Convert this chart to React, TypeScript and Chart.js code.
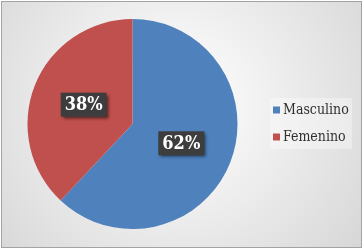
import React, { useEffect, useRef } from "react";
import { Chart, registerables } from "chart.js";

Chart.register(...registerables);

const categories = ["Masculino", "Femenino"];
const values = [62, 38];
const colors = ["#4F81BD", "#C0504D"];

const decorPlugin = {
  id: "decor",
  beforeDraw(chart: any) {
    const ctx = chart.ctx as CanvasRenderingContext2D;
    const W = chart.width, H = chart.height;
    ctx.save();
    ctx.fillStyle = "#ffffff";
    ctx.fillRect(0, 0, W, H);
    const g = ctx.createRadialGradient(175, 105, 10, 175, 105, 250);
    g.addColorStop(0, "#ffffff");
    g.addColorStop(1, "#d4d4d4");
    ctx.fillStyle = g;
    ctx.fillRect(1, 1, 361, 246);
    ctx.strokeStyle = "#a3a3a3";
    ctx.lineWidth = 1;
    ctx.strokeRect(1.5, 1.5, 360, 246);
    ctx.restore();
  },
  afterDraw(chart: any) {
    const ctx = chart.ctx as CanvasRenderingContext2D;
    const meta = chart.getDatasetMeta(0);
    const data = chart.data.datasets[0].data as number[];
    const total = data.reduce((a, b) => a + b, 0);
    ctx.save();
    meta.data.forEach((arc: any, i: number) => {
      const p = arc.tooltipPosition();
      const txt = Math.round((data[i] / total) * 100) + "%";
      ctx.font = "bold 18px 'DejaVu Serif Condensed', 'DejaVu Serif', serif";
      const tw = ctx.measureText(txt).width;
      const bw = Math.max(44, tw + 8), bh = 24;
      ctx.save();
      ctx.shadowColor = "rgba(0,0,0,0.55)";
      ctx.shadowBlur = 3;
      ctx.shadowOffsetX = 2;
      ctx.shadowOffsetY = 2;
      ctx.fillStyle = "#3d3d3d";
      ctx.fillRect(p.x - bw / 2, p.y - bh / 2, bw, bh);
      ctx.restore();
      ctx.fillStyle = "#ffffff";
      ctx.textAlign = "center";
      ctx.textBaseline = "middle";
      ctx.fillText(txt, p.x, p.y + 1);
    });
    // legend
    const labels = chart.data.labels as string[];
    const bg = chart.data.datasets[0].backgroundColor as string[];
    ctx.fillStyle = "rgba(255,255,255,0.35)";
    ctx.fillRect(270, 98, 82, 51);
    ctx.font = "14px 'DejaVu Serif Condensed', 'DejaVu Serif', serif";
    ctx.textAlign = "left";
    ctx.textBaseline = "middle";
    labels.forEach((l, i) => {
      const y = 110 + i * 27;
      ctx.fillStyle = bg[i];
      ctx.fillRect(273, y - 3.5, 7, 7);
      ctx.fillStyle = "#303030";
      ctx.fillText(l, 283, y);
    });
    ctx.restore();
  },
};

export default function App() {
  const ref = useRef<HTMLCanvasElement>(null);
  useEffect(() => {
    const chart = new Chart(ref.current!, {
      type: "pie",
      data: {
        labels: categories,
        datasets: [
          {
            data: values,
            backgroundColor: colors,
            borderWidth: 0,
          },
        ],
      },
      options: {
        animation: false,
        responsive: false,
        maintainAspectRatio: false,
        layout: { padding: { left: 27.5, right: 126.5, top: 19, bottom: 21 } },
        plugins: {
          legend: { display: false },
          tooltip: { enabled: false },
        },
      },
      plugins: [decorPlugin],
    });
    return () => chart.destroy();
  }, []);
  return (
    <div style={{ position: "fixed", left: 0, top: 0, width: 364, height: 250 }}>
      <canvas ref={ref} width={364} height={250} style={{ width: 364, height: 250 }} />
    </div>
  );
}
